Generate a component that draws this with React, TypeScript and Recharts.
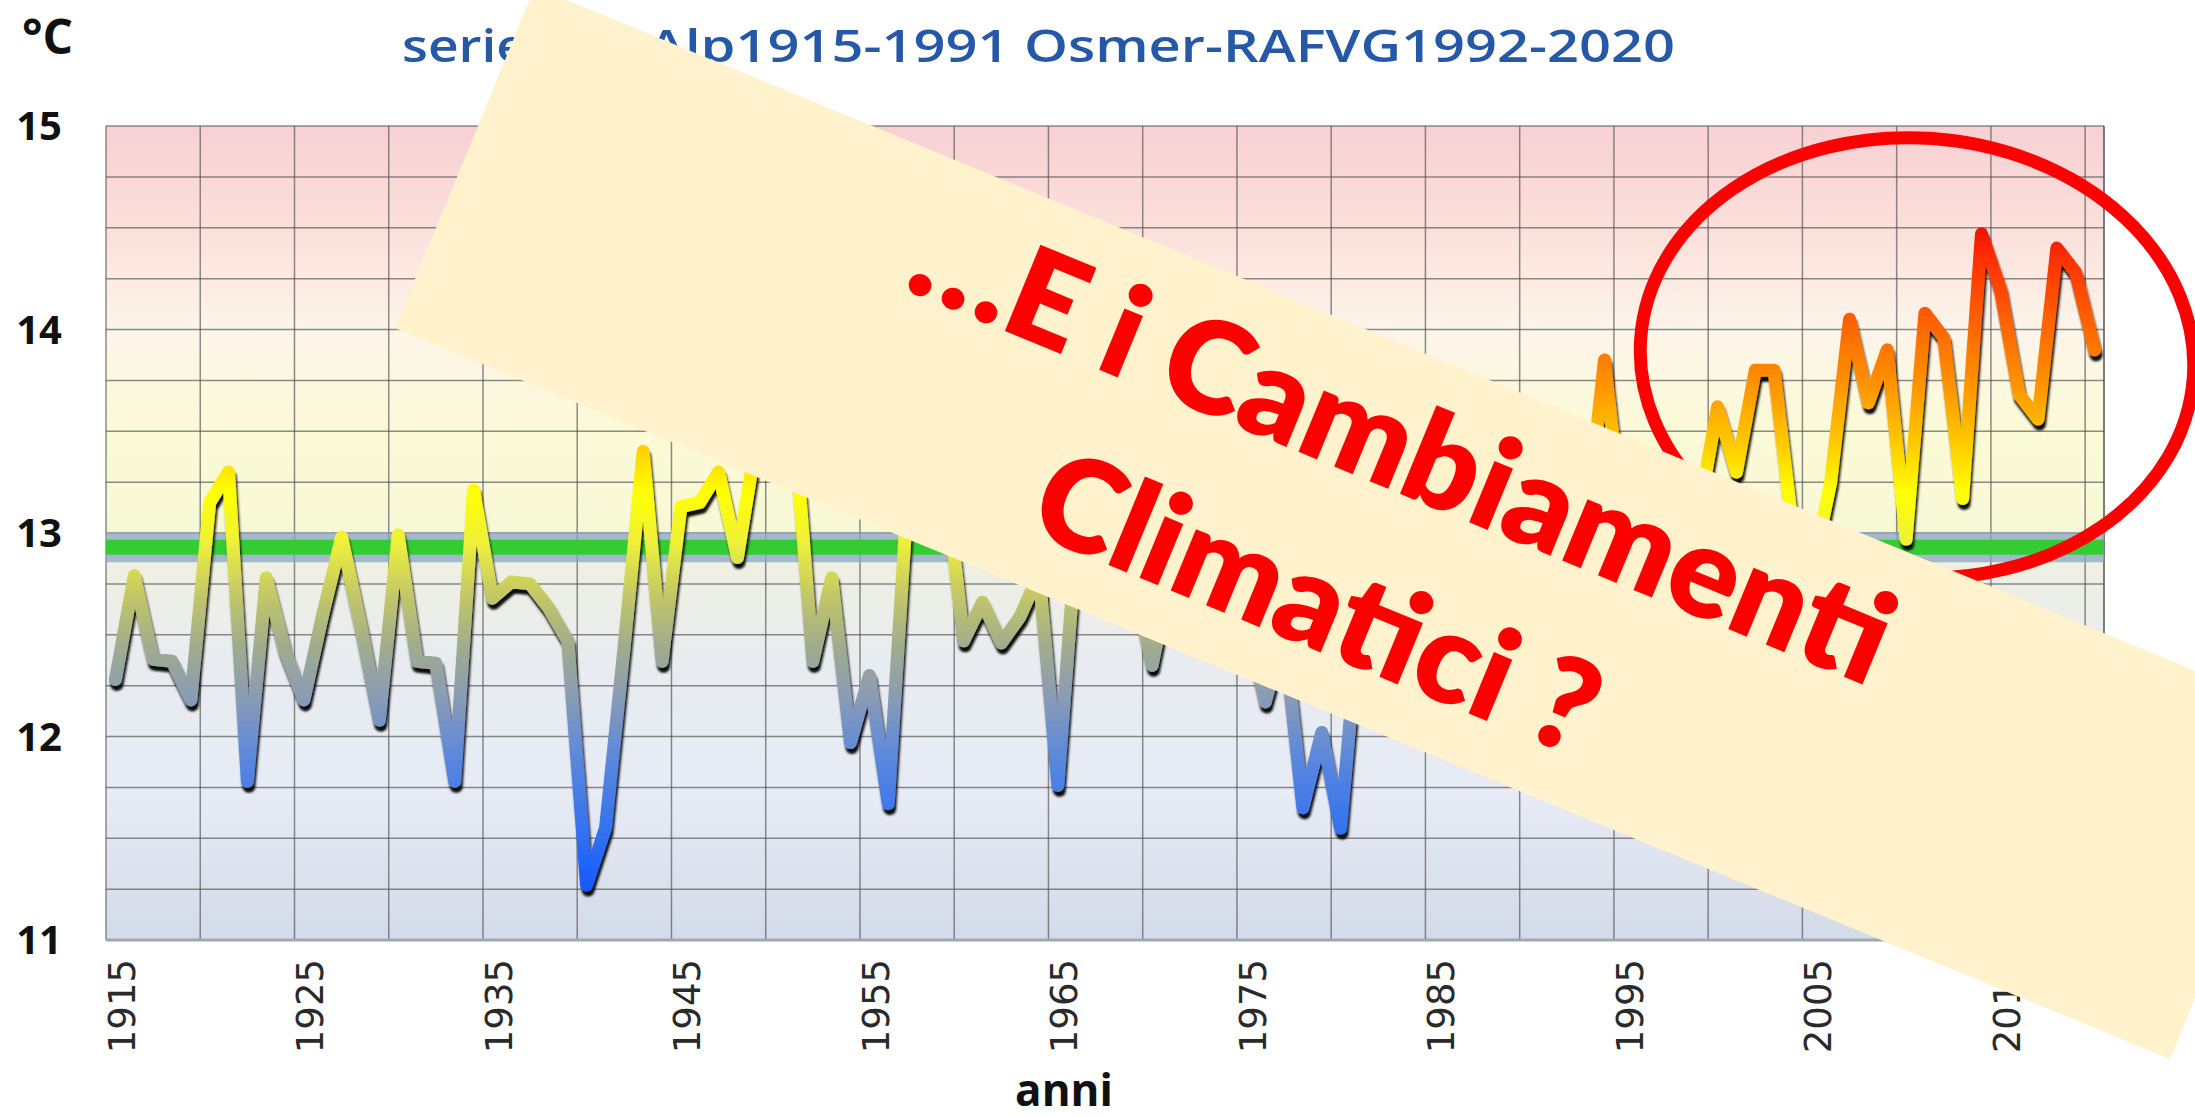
import { LineChart, Line, XAxis, YAxis, CartesianGrid, ReferenceLine } from "recharts";

// annual mean temperature (°C), one value per year from 1915
const firstYear = 1915;
const annualTemp = [
  12.28, 12.79, 12.38, 12.37, 12.18, 13.15, 13.3, 11.78, 12.78, 12.42, // 1915-1924
  12.18, 12.6, 12.98, 12.55, 12.08, 12.99, 12.37, 12.36, 11.78, 13.21, // 1925-1934
  12.68, 12.76, 12.75, 12.63, 12.47, 11.27, 11.55, 12.45, 13.4, 12.37, // 1935-1944
  13.13, 13.15, 13.3, 12.88, 13.45, 13.35, 13.55, 12.37, 12.78, 11.97, // 1945-1954
  12.3, 11.67, 13.15, 13.05, 13.3, 12.47, 12.66, 12.46, 12.59, 12.8, // 1955-1964
  11.76, 13.0, 12.85, 12.65, 12.8, 12.35, 12.8, 12.6, 12.55, 12.7, // 1965-1974
  12.6, 12.17, 12.5, 11.65, 12.02, 11.55, 12.6, 13.0, 12.9, 12.4, // 1975-1984
  12.5, 12.7, 12.8, 13.1, 13.2, 13.4, 13.0, 13.4, 13.0, 13.85, // 1985-1994
  13.0, 12.85, 13.3, 13.2, 13.1, 13.62, 13.3, 13.8, 13.8, 13.0, // 1995-2004
  12.8, 13.25, 14.05, 13.64, 13.9, 12.97, 14.08, 13.96, 13.17, 14.47, // 2005-2014
  14.2, 13.68, 13.56, 14.4, 14.28, 13.9, // 2015-2020
];
const meanTemp = 12.93;

const yearTicks = [
  1915, 1920, 1925, 1930, 1935, 1940, 1945, 1950, 1955, 1960, 1965, 1970,
  1975, 1980, 1985, 1990, 1995, 2000, 2005, 2010, 2015, 2020,
];
const labelledYears = [1915, 1925, 1935, 1945, 1955, 1965, 1975, 1985, 1995, 2005, 2015];
const tempTicks = [
  11, 11.25, 11.5, 11.75, 12, 12.25, 12.5, 12.75, 13, 13.25, 13.5, 13.75, 14,
  14.25, 14.5, 14.75, 15,
];
const labelledTemps = [11, 12, 13, 14, 15];

const titleStart = "serie";
const titleEnd = "Alp1915-1991 Osmer-RAFVG1992-2020";
const bannerLine1 = "…E i Cambiamenti";
const bannerLine2 = "Climatici ?";

// each yearly mean is drawn at mid-year
const data = annualTemp.map((t, i) => ({ x: firstYear + i + 0.5, t }));

const W = 2195;
const H = 1118;
const plotTop = 126;
const plotBottom = 940;
const yMin = 11;
const yMax = 15;

const lineStops: [number, string][] = [
  [14.6, "#dd0000"],
  [14.35, "#ff3000"],
  [14.05, "#ff6000"],
  [13.75, "#ff9000"],
  [13.45, "#ffc800"],
  [13.2, "#ffff00"],
  [12.95, "#eef03a"],
  [12.7, "#c4c866"],
  [12.45, "#a2ac8c"],
  [12.2, "#8a9cb4"],
  [11.9, "#5c88dc"],
  [11.5, "#2f6ff2"],
  [11.2, "#0f55ff"],
];

const bgStops: [number, string][] = [
  [0, "#f8d0d3"],
  [0.12, "#fbdfdb"],
  [0.25, "#fdf5ea"],
  [0.38, "#fbfad6"],
  [0.5, "#f7f8d6"],
  [0.54, "#eef0e2"],
  [0.66, "#e8ecf0"],
  [0.82, "#e7ebf5"],
  [1, "#d3dbe8"],
];

const XTick = (props: any) => {
  const { x, y, payload } = props;
  if (!labelledYears.includes(payload.value)) return null;
  return (
    <text
      transform={`translate(${x + 29}, ${y}) rotate(-90)`}
      textAnchor="end"
      fontFamily="DejaVu Sans"
      fontSize={37}
      fill="#2a2a2a"
    >
      {payload.value}
    </text>
  );
};

const YTick = (props: any) => {
  const { x, y, payload } = props;
  if (!labelledTemps.includes(payload.value)) return null;
  return (
    <text
      x={x}
      y={y}
      dy="0.36em"
      textAnchor="end"
      fontFamily="Open Sans"
      fontWeight={700}
      fontSize={40}
      fill="#111"
    >
      {payload.value}
    </text>
  );
};

export default function App() {
  return (
    <div
      style={{
        position: "absolute",
        left: 0,
        top: 0,
        width: W,
        height: H,
        background: "#fff",
        overflow: "hidden",
      }}
    >
      <style>{`.recharts-line-curve { stroke-linejoin: round; stroke-linecap: round; filter: url(#lineShadow); }`}</style>
      <LineChart
        width={W}
        height={H}
        data={data}
        margin={{ top: plotTop, right: 91, bottom: 0, left: 0 }}
      >
        <defs>
          <linearGradient id="plotBg" x1="0" y1="0" x2="0" y2="1">
            {bgStops.map(([o, c]) => (
              <stop key={o} offset={o} stopColor={c} />
            ))}
          </linearGradient>
          <linearGradient
            id="tempGrad"
            gradientUnits="userSpaceOnUse"
            x1="0"
            y1={plotTop}
            x2="0"
            y2={plotBottom}
          >
            {lineStops.map(([v, c]) => (
              <stop key={v} offset={(yMax - v) / (yMax - yMin)} stopColor={c} />
            ))}
          </linearGradient>
          <filter id="lineShadow" x="-5%" y="-20%" width="110%" height="140%">
            <feDropShadow dx="1.5" dy="5" stdDeviation="1.3" floodColor="#000" floodOpacity="0.95" />
          </filter>
        </defs>
        <CartesianGrid
          fill="url(#plotBg)"
          fillOpacity={1}
          stroke="#505050"
          strokeOpacity={0.65}
          strokeWidth={1.5}
        />
        <XAxis
          dataKey="x"
          type="number"
          domain={[1915, 2021]}
          ticks={yearTicks}
          interval={0}
          height={178}
          tickLine={false}
          tickSize={0}
          tickMargin={19}
          axisLine={{ stroke: "#9ea8b4", strokeWidth: 3 }}
          tick={XTick}
        />
        <YAxis
          type="number"
          domain={[yMin, yMax]}
          ticks={tempTicks}
          interval={0}
          width={106}
          tickLine={false}
          axisLine={false}
          tickSize={0}
          tickMargin={44}
          tick={YTick}
        />
        <ReferenceLine x={2021} stroke="#505050" strokeOpacity={0.65} strokeWidth={1.5} />
        <ReferenceLine y={meanTemp} stroke="#8aa4c6" strokeOpacity={0.75} strokeWidth={30} />
        <ReferenceLine y={meanTemp} stroke="#33cc33" strokeWidth={15} />
        <Line
          dataKey="t"
          type="linear"
          stroke="url(#tempGrad)"
          strokeWidth={13}
          dot={false}
          activeDot={false}
          isAnimationActive={false}
        />
      </LineChart>
      <svg
        width={W}
        height={H}
        style={{ position: "absolute", left: 0, top: 0, pointerEvents: "none" }}
      >
        <text
          x={402}
          y={62}
          fontFamily="Open Sans"
          fontWeight={600}
          fontSize={46}
          fill="#2558a6"
          textLength={125}
          lengthAdjust="spacingAndGlyphs"
        >
          {titleStart}
        </text>
        <text
          x={648}
          y={62}
          fontFamily="Open Sans"
          fontWeight={600}
          fontSize={46}
          fill="#2558a6"
          textLength={1027}
          lengthAdjust="spacingAndGlyphs"
        >
          {titleEnd}
        </text>
        <text x={22} y={54} fontFamily="Open Sans" fontWeight={700} fontSize={48} fill="#111">
          °C
        </text>
        <text
          x={1064}
          y={1106}
          textAnchor="middle"
          fontFamily="Open Sans"
          fontWeight={700}
          fontSize={44}
          fill="#111"
        >
          anni
        </text>
        <ellipse
          cx={1917}
          cy={358}
          rx={277}
          ry={220}
          transform="rotate(4 1917 358)"
          fill="none"
          stroke="#ff0000"
          strokeWidth={13}
        />
        <polygon points="535,-13 2310,718 2170,1059 395,328" fill="#fff2cc" />
        <g transform="rotate(22.4)">
          <text
            x={1467}
            y={-77}
            textAnchor="middle"
            fontFamily="Lato"
            fontWeight={800}
            fontSize={128}
            fill="#ff0000"
            textLength={1046}
            lengthAdjust="spacingAndGlyphs"
          >
            {bannerLine1}
          </text>
          <text
            x={1448}
            y={100}
            textAnchor="middle"
            fontFamily="Lato"
            fontWeight={800}
            fontSize={128}
            fill="#ff0000"
            textLength={597}
            lengthAdjust="spacingAndGlyphs"
          >
            {bannerLine2}
          </text>
        </g>
      </svg>
    </div>
  );
}
